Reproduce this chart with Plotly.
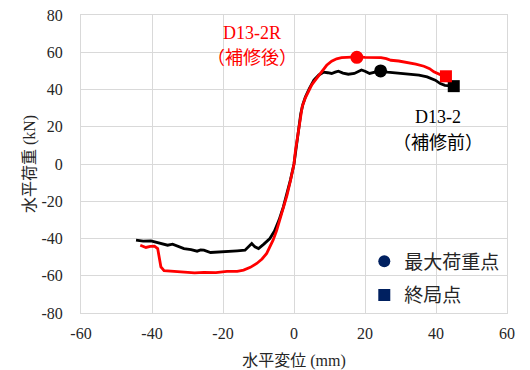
import plotly.graph_objects as go

# Skeleton curves: horizontal displacement (mm) vs horizontal load (kN)
disp_after = [-43.3, -42.3, -41.7, -40.5, -39.3, -38.4, -37.9, -37.5, -36.6, -34.0, -31.0, -28.0,
              -25.4, -22.0, -18.9, -16.0, -14.2, -12.3, -10.5, -9.0, -7.7, -6.8, -5.9, -4.9,
              -4.0, -3.0, -2.0, -1.0, 0.0, 0.4, 0.9, 1.4, 1.9, 2.3, 3.2, 4.2, 5.0, 6.0, 7.0,
              7.9, 9.2, 10.6, 12.0, 13.4, 15.5, 17.7, 20.0, 22.5, 24.5, 26.0, 27.3, 29.5,
              31.9, 34.3, 36.6, 38.2, 39.4, 40.3, 41.2, 42.8]
load_after = [-43.6, -44.6, -44.8, -44.2, -44.1, -45.4, -50.0, -55.2, -57.3, -57.6, -58.2, -58.5,
              -58.2, -58.3, -57.7, -57.6, -57.0, -55.5, -53.4, -51.0, -48.0, -44.8, -40.9, -35.8,
              -30.2, -24.0, -17.0, -9.0, 0.0, 7.0, 14.0, 20.0, 26.0, 30.7, 35.5, 39.6, 42.5, 45.0, 47.5,
              49.5, 53.0, 55.2, 56.5, 57.1, 57.3, 57.5, 57.3, 57.2, 57.1, 56.6, 55.7, 55.3,
              54.5, 53.6, 52.5, 51.2, 49.5, 48.6, 48.0, 47.1]

disp_before = [-44.5, -42.5, -40.3, -38.0, -35.6, -34.2, -32.5, -31.0, -29.0, -27.3, -26.3, -25.4,
               -23.5, -21.0, -18.9, -16.0, -13.8, -12.7, -11.9, -11.0, -10.0, -8.5, -6.8, -5.5,
               -4.2, -3.0, -2.0, -1.0, 0.0, 0.5, 1.0, 1.4, 1.9, 2.5, 3.2, 4.3, 5.6, 7.0, 8.3,
               9.5, 10.6, 11.6, 12.5, 13.8, 15.3, 17.0, 19.0, 20.0, 21.3, 22.8, 24.4, 26.3,
               28.2, 30.5, 32.9, 35.2, 37.5, 38.8, 39.8, 41.2, 42.5, 45.0]
load_before = [-40.9, -41.4, -41.3, -42.3, -43.6, -43.0, -44.3, -45.4, -46.0, -46.8, -46.1, -46.3,
               -47.5, -47.3, -47.1, -46.6, -46.3, -44.5, -42.7, -44.5, -45.4, -43.0, -40.0, -36.0,
               -30.0, -23.0, -16.0, -8.5, 0.0, 8.0, 16.0, 22.0, 27.0, 32.0, 36.0, 40.5, 45.0, 47.8, 49.3,
               49.0, 48.6, 49.3, 49.8, 48.8, 48.2, 48.6, 50.5, 49.8, 48.6, 49.3, 50.0, 49.3,
               48.9, 48.6, 48.2, 47.7, 46.8, 46.0, 45.0, 43.2, 42.2, 41.8]

# Maximum-load and ultimate points
peak_after = (17.7, 57.3)
ult_after = (42.8, 47.1)
peak_before = (24.4, 50.0)
ult_before = (45.0, 41.8)

x_ticks = [-60, -40, -20, 0, 20, 40, 60]
y_ticks = [-80, -60, -40, -20, 0, 20, 40, 60, 80]

RED = "#ff0000"
BLACK = "#000000"
NAVY = "#002060"
SERIF = "Liberation Serif, Noto Sans CJK JP, serif"
GRID = "#d9d9d9"

fig = go.Figure()

fig.add_trace(go.Scatter(x=disp_before, y=load_before, mode="lines",
                         line=dict(color=BLACK, width=2.8), showlegend=False,
                         hoverinfo="skip"))
fig.add_trace(go.Scatter(x=disp_after, y=load_after, mode="lines",
                         line=dict(color=RED, width=2.8), showlegend=False,
                         hoverinfo="skip"))

fig.add_trace(go.Scatter(x=[peak_before[0]], y=[peak_before[1]], mode="markers",
                         marker=dict(symbol="circle", size=13, color=BLACK), showlegend=False))
fig.add_trace(go.Scatter(x=[ult_before[0]], y=[ult_before[1]], mode="markers",
                         marker=dict(symbol="square", size=12, color=BLACK), showlegend=False))
fig.add_trace(go.Scatter(x=[peak_after[0]], y=[peak_after[1]], mode="markers",
                         marker=dict(symbol="circle", size=13, color=RED), showlegend=False))
fig.add_trace(go.Scatter(x=[ult_after[0]], y=[ult_after[1]], mode="markers",
                         marker=dict(symbol="square", size=12, color=RED), showlegend=False))

# Legend entries for the marker meanings
fig.add_trace(go.Scatter(x=[None], y=[None], mode="markers", name="最大荷重点",
                         legendgroup="peak",
                         marker=dict(symbol="circle", size=11, color=NAVY)))
fig.add_trace(go.Scatter(x=[None], y=[None], mode="markers", name="終局点",
                         legendgroup="ult",
                         marker=dict(symbol="square", size=10, color=NAVY)))

labels = [
    ("D13-2R", -11.8, 70.5, RED),
    ("（補修後）", -11.8, 57.0, RED),
    ("D13-2", 40.6, 25.0, BLACK),
    ("（補修前）", 40.6, 11.5, BLACK),
]
for text, lx, ly, col in labels:
    fig.add_annotation(x=lx, y=ly, text=text, showarrow=False,
                       font=dict(family=SERIF, size=18, color=col),
                       xanchor="center", yanchor="middle")

fig.update_layout(
    width=530, height=370,
    margin=dict(l=81, r=23, t=15, b=57),
    paper_bgcolor="white", plot_bgcolor="white",
    font=dict(family=SERIF, size=16, color="#262626"),
    showlegend=True,
    legend=dict(x=0.665, y=0.237, xanchor="left", yanchor="top",
                bgcolor="rgba(0,0,0,0)", font=dict(size=19, color="#262626"),
                tracegroupgap=6, itemsizing="constant"),
    xaxis=dict(range=[-60, 60], tickvals=x_ticks, ticktext=[str(v) for v in x_ticks],
               showgrid=True, gridcolor=GRID, gridwidth=1,
               zeroline=True, zerolinecolor=GRID, zerolinewidth=1,
               showline=True, linecolor=GRID, linewidth=1, mirror=True,
               ticks="", ticklabelstandoff=6, automargin=False,
               title=dict(text="水平変位 (mm)", standoff=14,
                          font=dict(family=SERIF, size=16))),
    yaxis=dict(range=[-80, 80], tickvals=y_ticks, ticktext=[str(v) for v in y_ticks],
               showgrid=True, gridcolor=GRID, gridwidth=1,
               zeroline=True, zerolinecolor=GRID, zerolinewidth=1,
               showline=True, linecolor=GRID, linewidth=1, mirror=True,
               ticks="", ticklabelstandoff=14, automargin=False,
               title=dict(text="水平荷重 (kN)", standoff=1,
                          font=dict(family=SERIF, size=16))),
)

fig.write_html("out.html")
